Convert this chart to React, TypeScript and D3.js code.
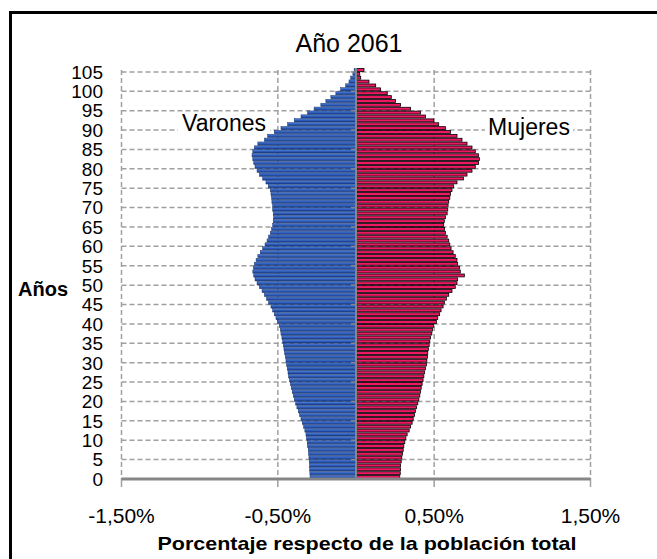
import * as d3 from "d3";

// edades 0..105
const ages = d3.range(0, 106);

// % de la población total (varones, se dibujan a la izquierda)
const males = [
  0.294, 0.295, 0.296, 0.297, 0.299, 0.301, 0.303, 0.305, 0.31, 0.312,
  0.316, 0.32, 0.327, 0.335, 0.344, 0.352, 0.361, 0.369, 0.378, 0.386,
  0.395, 0.401, 0.408, 0.414, 0.42, 0.425, 0.431, 0.435, 0.44, 0.444,
  0.448, 0.452, 0.457, 0.461, 0.465, 0.469, 0.474, 0.48, 0.484, 0.491,
  0.501, 0.512, 0.523, 0.533, 0.544, 0.559, 0.572, 0.586, 0.601, 0.618,
  0.633, 0.646, 0.654, 0.66, 0.656, 0.65, 0.639, 0.628, 0.612, 0.597,
  0.582, 0.569, 0.559, 0.548, 0.54, 0.533, 0.529, 0.527, 0.529, 0.533,
  0.533, 0.538, 0.54, 0.544, 0.548, 0.561, 0.576, 0.597, 0.618, 0.633,
  0.646, 0.654, 0.66, 0.665, 0.66, 0.65, 0.628, 0.586, 0.565, 0.523,
  0.48, 0.437, 0.395, 0.352, 0.31, 0.268, 0.225, 0.193, 0.161, 0.129,
  0.098, 0.066, 0.045, 0.034, 0.02, 0.012,
];

const females = [
  0.28, 0.283, 0.285, 0.285, 0.289, 0.293, 0.297, 0.302, 0.306, 0.312,
  0.319, 0.327, 0.34, 0.349, 0.359, 0.366, 0.374, 0.38, 0.387, 0.395,
  0.402, 0.408, 0.412, 0.417, 0.423, 0.429, 0.434, 0.438, 0.444, 0.45,
  0.453, 0.457, 0.459, 0.463, 0.468, 0.472, 0.476, 0.485, 0.489, 0.497,
  0.514, 0.523, 0.535, 0.544, 0.557, 0.565, 0.578, 0.593, 0.614, 0.635,
  0.646, 0.65, 0.693, 0.667, 0.663, 0.65, 0.646, 0.635, 0.621, 0.608,
  0.6, 0.593, 0.583, 0.572, 0.567, 0.561, 0.565, 0.572, 0.583, 0.587,
  0.589, 0.593, 0.6, 0.604, 0.614, 0.625, 0.646, 0.688, 0.71, 0.742,
  0.763, 0.784, 0.79, 0.784, 0.763, 0.742, 0.71, 0.678, 0.646, 0.604,
  0.572, 0.529, 0.497, 0.444, 0.412, 0.349, 0.285, 0.253, 0.226, 0.2,
  0.157, 0.126, 0.083, 0.03, 0.024, 0.051,
];

const ageTicks = d3.range(0, 106, 5);
const xTicks = [-1.5, -0.5, 0.5, 1.5];

const W = 657;
const H = 559;
const font = "Arial, 'Liberation Sans', sans-serif";
const gridColor = "#a0a0a0";

export default function App() {
  const x = d3.scaleLinear().domain([-1.5, 1.5]).range([121.5, 590.5]);
  const y = d3
    .scaleBand<number>()
    .domain(ages)
    .range([479, 68])
    .paddingInner(0)
    .paddingOuter(0);
  const bw = y.bandwidth();
  const gridY = (a: number) => (y(a) as number) + bw;
  // guion normal, coma decimal
  const fmt = (v: number) =>
    (v < 0 ? "-" : "") + Math.abs(v).toFixed(2).replace(".", ",") + "%";
  const x0 = x(0);

  return (
    <svg
      width={W}
      height={H}
      style={{ position: "absolute", left: 0, top: 0, background: "#fff" }}
    >
      <defs>
        <linearGradient id="blue" x1="0" y1="0" x2="0" y2="1">
          <stop offset="0" stopColor="#5584d8" />
          <stop offset="0.5" stopColor="#2d5cbc" />
          <stop offset="1" stopColor="#183a82" />
        </linearGradient>
      </defs>

      {/* marco */}
      <rect x={10.5} y={12.5} width={700} height={600} fill="none" stroke="#000" strokeWidth={3} />

      {/* título */}
      <text x={349} y={52} textAnchor="middle" fontFamily={font} fontSize={25}>
        Año 2061
      </text>

      {/* rejilla horizontal */}
      {ageTicks
        .filter((a) => a > 0)
        .map((a) => (
          <line
            key={"h" + a}
            x1={x(-1.5)}
            x2={x(1.5)}
            y1={gridY(a)}
            y2={gridY(a)}
            stroke={gridColor}
            strokeWidth={1.5}
            strokeDasharray="5,3"
          />
        ))}

      {/* rejilla vertical */}
      {xTicks.map((t) => (
        <g key={"v" + t}>
          <line
            x1={x(t)}
            x2={x(t)}
            y1={70}
            y2={479}
            stroke={gridColor}
            strokeWidth={1.5}
            strokeDasharray="5,3"
          />
          <line x1={x(t)} x2={x(t)} y1={479} y2={487} stroke={gridColor} strokeWidth={1.5} />
        </g>
      ))}

      {/* etiquetas de serie */}
      <rect x={178} y={113} width={92} height={24} fill="#fff" />
      <text x={224} y={131} textAnchor="middle" fontFamily={font} fontSize={23}>
        Varones
      </text>
      <rect x={485} y={117} width={88} height={24} fill="#fff" />
      <text x={529} y={135} textAnchor="middle" fontFamily={font} fontSize={23}>
        Mujeres
      </text>

      {/* barras varones */}
      {ages.map((a, i) => (
        <rect
          key={"m" + a}
          x={x(-males[i])}
          y={(y(a) as number) + 0.3}
          width={x0 - x(-males[i])}
          height={bw - 0.6}
          fill="url(#blue)"
          stroke="#163470"
          strokeWidth={0.5}
        />
      ))}

      {/* barras mujeres */}
      {ages.map((a, i) => (
        <rect
          key={"f" + a}
          x={x0}
          y={(y(a) as number) + 0.5}
          width={x(females[i]) - x0}
          height={bw - 1}
          fill="#ee1762"
          stroke="#000"
          strokeWidth={0.8}
        />
      ))}

      {/* eje vertical central */}
      <line x1={x0} x2={x0} y1={68} y2={479} stroke="#868686" strokeWidth={2} />
      {ageTicks.map((a) => (
        <line
          key={"t" + a}
          x1={x0 - 5}
          x2={x0}
          y1={gridY(a)}
          y2={gridY(a)}
          stroke="#868686"
          strokeWidth={1.5}
        />
      ))}

      {/* eje horizontal */}
      <line x1={x(-1.5)} x2={x(1.5)} y1={479} y2={479} stroke="#868686" strokeWidth={3} />

      {/* etiquetas de edad */}
      {ageTicks.map((a) => (
        <text
          key={"l" + a}
          x={103}
          y={gridY(a)}
          dy="0.36em"
          textAnchor="end"
          fontFamily={font}
          fontSize={19}
        >
          {a}
        </text>
      ))}
      <text x={18} y={296} fontFamily={font} fontSize={20} fontWeight="bold">
        Años
      </text>

      {/* etiquetas eje x */}
      {xTicks.map((t) => (
        <text
          key={"xl" + t}
          x={x(t)}
          y={523}
          textAnchor="middle"
          fontFamily={font}
          fontSize={21}
        >
          {fmt(t)}
        </text>
      ))}
      <text
        x={367}
        y={550}
        textAnchor="middle"
        fontFamily={font}
        fontSize={19}
        fontWeight="bold"
        textLength={419}
        lengthAdjust="spacingAndGlyphs"
      >
        Porcentaje respecto de la población total
      </text>
    </svg>
  );
}
